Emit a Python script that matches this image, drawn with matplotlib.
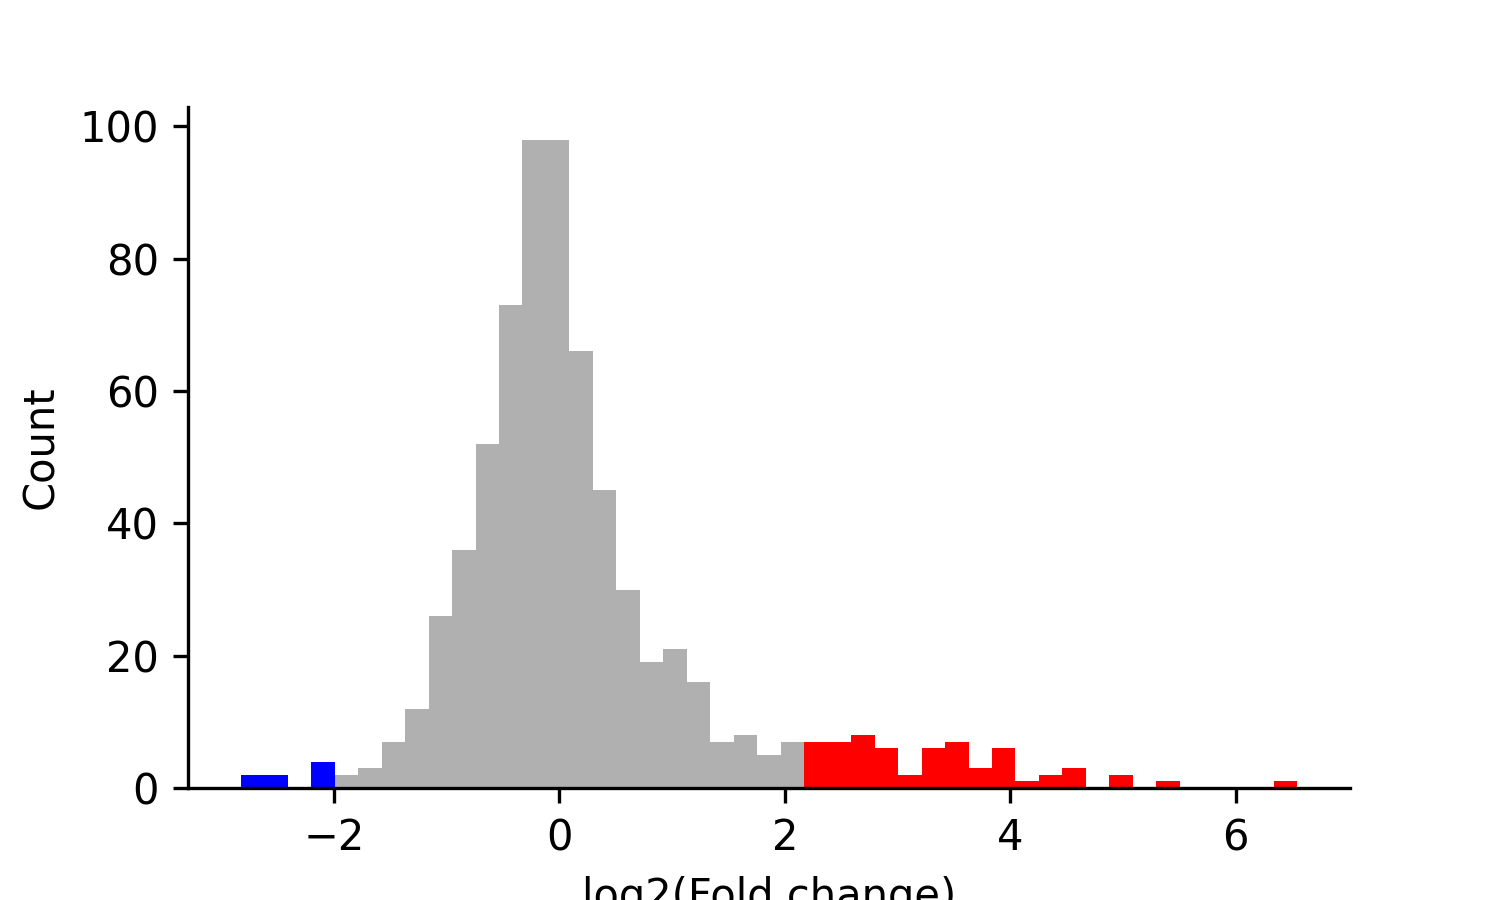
import numpy as np
import matplotlib
matplotlib.use("Agg")
import matplotlib.pyplot as plt

# histogram: 45 equal bins between lo and hi
lo, hi = -2.826, 6.546
counts = [2, 2, 0, 4,
          2, 3, 7, 12, 26, 36, 52, 73, 98, 98, 66, 45, 30, 19, 21, 16, 7, 8, 5, 7,
          7, 7, 8, 6, 2, 6, 7, 3, 6, 1, 2, 3, 0, 2, 0, 1, 0, 0, 0, 0, 1]
groups = ['down'] * 4 + ['ns'] * 20 + ['up'] * 21
group_colors = {'down': '#0000ff', 'ns': '#b0b0b0', 'up': '#ff0000'}

edges = np.linspace(lo, hi, len(counts) + 1)
width = edges[1] - edges[0]

fig = plt.figure(figsize=(5, 3), dpi=300)
ax = fig.add_axes([0.1253, 0.1244, 0.9 - 0.1253, 0.881 - 0.1244])

ax.bar(edges[:-1], counts, width=width, align='edge', linewidth=0,
       color=[group_colors[g] for g in groups])

ax.spines['top'].set_visible(False)
ax.spines['right'].set_visible(False)
ax.set_yticks([0, 20, 40, 60, 80, 100])
ax.set_xlabel('log2(Fold change)')
ax.set_ylabel('Count')

fig.savefig('out.png', dpi=300)
